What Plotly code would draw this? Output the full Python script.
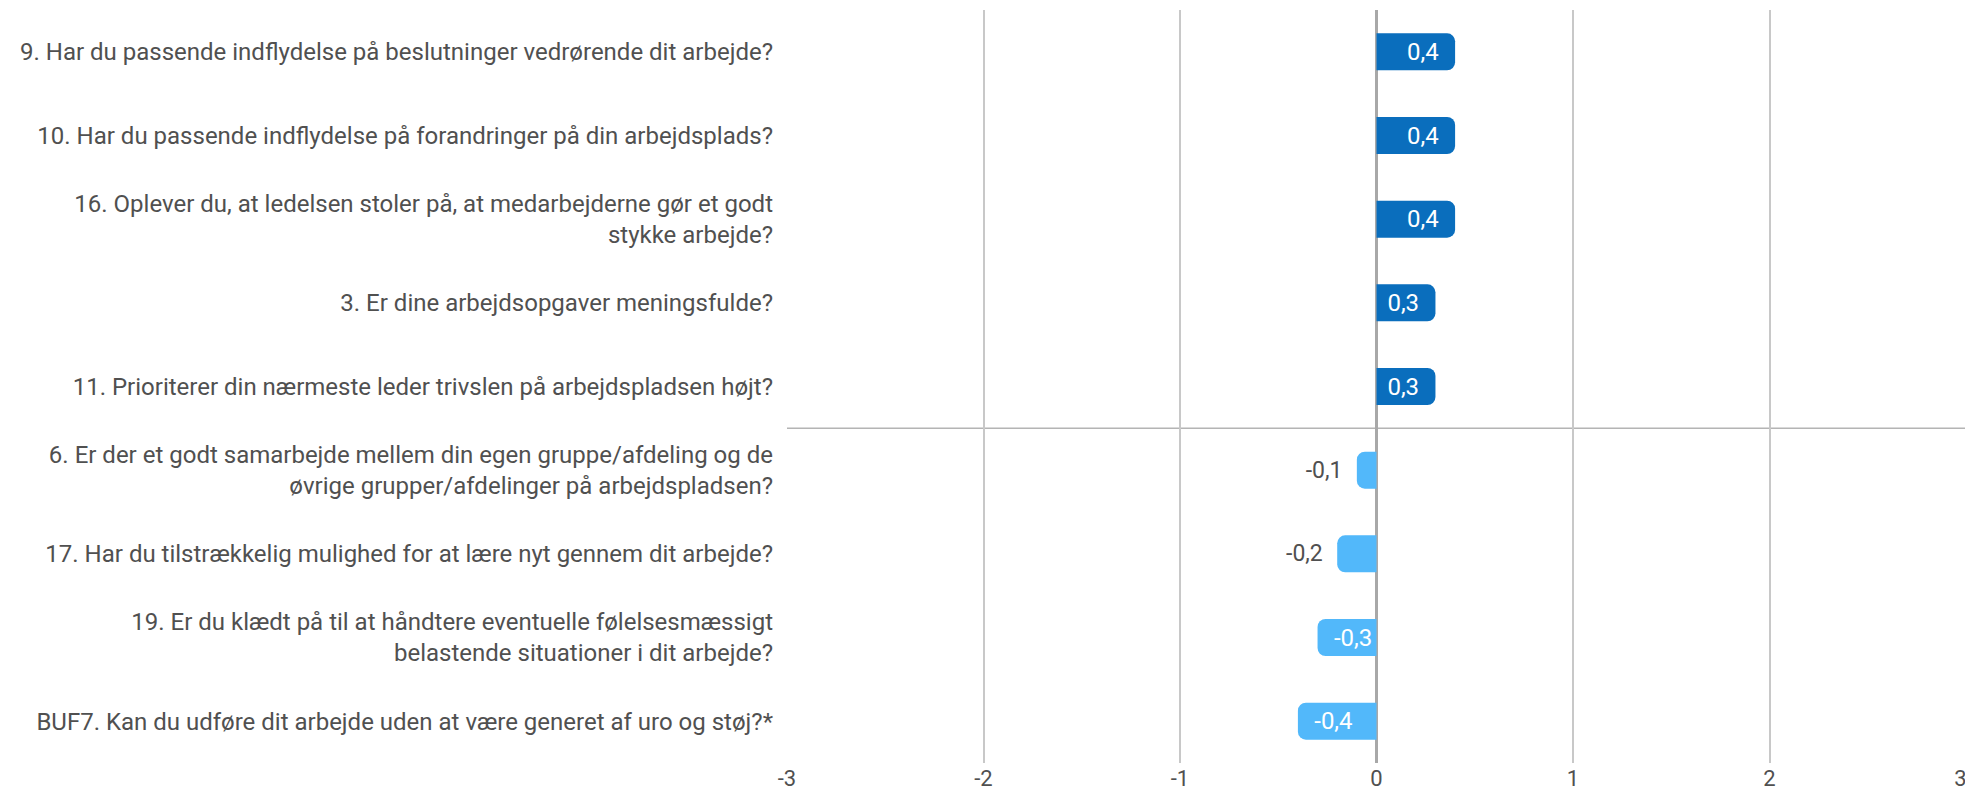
import plotly.graph_objects as go

categories = [
    "9. Har du passende indflydelse på beslutninger vedrørende dit arbejde?",
    "10. Har du passende indflydelse på forandringer på din arbejdsplads?",
    "16. Oplever du, at ledelsen stoler på, at medarbejderne gør et godt<br>stykke arbejde?",
    "3. Er dine arbejdsopgaver meningsfulde?",
    "11. Prioriterer din nærmeste leder trivslen på arbejdspladsen højt?",
    "6. Er der et godt samarbejde mellem din egen gruppe/afdeling og de<br>øvrige grupper/afdelinger på arbejdspladsen?",
    "17. Har du tilstrækkelig mulighed for at lære nyt gennem dit arbejde?",
    "19. Er du klædt på til at håndtere eventuelle følelsesmæssigt<br>belastende situationer i dit arbejde?",
    "BUF7. Kan du udføre dit arbejde uden at være generet af uro og støj?*",
]
values = [0.4, 0.4, 0.4, 0.3, 0.3, -0.1, -0.2, -0.3, -0.4]
label_positions = ["inside"] * 5 + ["outside", "outside", "inside", "inside"]
tick_values = [-3, -2, -1, 0, 1, 2, 3]
tick_labels = ["-3", "-2", "-1", "0", "1", "2", "3\u00a0\u00a0"]

DARK = "#0a6ebd"
LIGHT = "#52b8fa"
TEXT = "#505050"
NB = "\u00a0\u00a0"

colors = [DARK if v >= 0 else LIGHT for v in values]
texts = []
for v, p in zip(values, label_positions):
    s = f"{v:.1f}".replace(".", ",")
    if v >= 0:
        texts.append(s + NB)
    elif p == "inside":
        texts.append(NB + s)
    else:
        texts.append(s + NB)

fig = go.Figure(
    go.Bar(
        x=values,
        y=categories,
        orientation="h",
        marker=dict(color=colors, line=dict(width=0)),
        text=texts,
        textposition=label_positions,
        insidetextanchor="end",
        insidetextfont=dict(color="white", size=24, family="Roboto"),
        outsidetextfont=dict(color=TEXT, size=23, family="Roboto"),
        cliponaxis=False,
        hoverinfo="skip",
    )
)

fig.add_shape(
    type="line", xref="x", yref="y",
    x0=-3, x1=3, y0=4.5, y1=4.5,
    line=dict(color="#b4b4b4", width=1.5),
    layer="below",
)

fig.update_layout(
    width=1973, height=799,
    margin=dict(l=779, r=15, t=2, b=44, autoexpand=False),
    paper_bgcolor="white", plot_bgcolor="white",
    font=dict(family="Roboto", size=24, color=TEXT),
    bargap=0.558,
    barcornerradius=8,
    showlegend=False,
)
fig.update_xaxes(
    range=[-3, 3], tickvals=tick_values, ticktext=tick_labels,
    showgrid=True, gridcolor="#c8c8c8", gridwidth=1.5,
    zeroline=True, zerolinecolor="#a8a8a8", zerolinewidth=2.5,
    showline=False, ticks="", tickfont=dict(size=22, color=TEXT),
    fixedrange=True,
)
fig.update_yaxes(
    autorange="reversed", showgrid=False, zeroline=False, showline=False,
    ticks="", ticklabelstandoff=13, tickfont=dict(size=24, color=TEXT),
    automargin=False, fixedrange=True,
)

fig.write_html("out.html", config={"displayModeBar": False})
